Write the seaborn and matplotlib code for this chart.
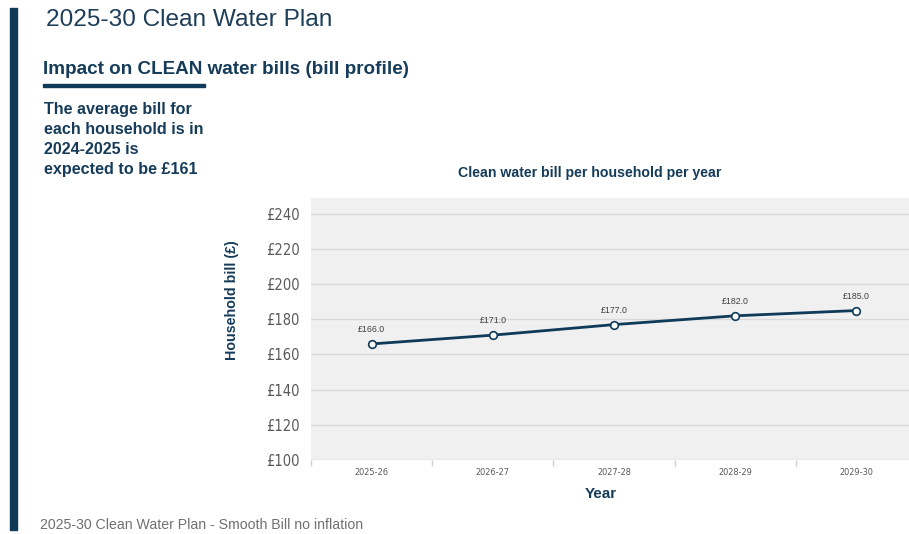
import matplotlib
matplotlib.use("Agg")
import matplotlib.pyplot as plt
from matplotlib.patches import Rectangle
import seaborn as sns
import pandas as pd

# Bill profile data
years = ["2025-26", "2026-27", "2027-28", "2028-29", "2029-30"]
bills = [166.0, 171.0, 177.0, 182.0, 185.0]
y_ticks = [100, 120, 140, 160, 180, 200, 220, 240]

df = pd.DataFrame({"Year": years, "Bill": bills})

NAVY = "#0f3b59"
TEXT_NAVY = "#163c5a"
GREY_TXT = "#595959"

sns.set_theme(style="white")
plt.rcParams["font.family"] = ["Liberation Sans", "DejaVu Sans"]

W, H = 909, 534
fig = plt.figure(figsize=(W / 100, H / 100), dpi=100)
fig.patch.set_facecolor("white")

def fx(px):
    return px / W

def fy(py):
    return 1 - py / H

# Vertical accent bar on the left
fig.patches.append(Rectangle((fx(10), fy(530)), fx(7), (530 - 8) / H,
                             transform=fig.transFigure, color=NAVY, zorder=5))

# Header texts
fig.text(fx(46), fy(20), "2025-30 Clean Water Plan", fontsize=17.6,
         color="#1d3d58", va="center", ha="left")
fig.text(fx(43), fy(70), "Impact on CLEAN water bills (bill profile)",
         fontsize=13.6, fontweight="bold", color=TEXT_NAVY, va="center", ha="left")
fig.patches.append(Rectangle((fx(43), fy(86.5)), fx(162), 3 / H,
                             transform=fig.transFigure, color=NAVY))
fig.text(fx(44), fy(102), "The average bill for\neach household is in\n2024-2025 is\nexpected to be £161",
         fontsize=11.6, fontweight="bold", color=TEXT_NAVY, va="top", ha="left",
         linespacing=1.42)

# Chart area
ax = fig.add_axes([fx(311), fy(460), fx(606), (460 - 198) / H])
ax.set_facecolor("#f0f0f0")
for s in ax.spines.values():
    s.set_visible(False)

ax.set_ylim(100, 249)
ax.set_yticks(y_ticks)
ax.yaxis.grid(True, color="#d9d9d9", linewidth=1)
ax.set_axisbelow(True)

sns.lineplot(data=df, x="Year", y="Bill", ax=ax, color=NAVY, linewidth=2,
             marker="o", markersize=5.5, markerfacecolor="white",
             markeredgecolor=NAVY, markeredgewidth=1.2, sort=False)
ax.set_xlim(-0.5, 4.5)

for i, v in enumerate(bills):
    ax.annotate(f"£{v:.1f}", (i, v), xytext=(0, 7), textcoords="offset points",
                ha="center", va="bottom", fontsize=6.3, color="#404040")

ax.set_yticklabels([f"£{t}" for t in y_ticks])
for lab in ax.get_yticklabels():
    lab.set_fontfamily(["DejaVu Sans"])
    lab.set_fontstretch("condensed")
    lab.set_fontsize(10.5)
    lab.set_color(GREY_TXT)
for lab in ax.get_xticklabels():
    lab.set_fontfamily(["DejaVu Sans"])
    lab.set_fontstretch("condensed")
    lab.set_fontsize(6.6)
    lab.set_color(GREY_TXT)

ax.tick_params(axis="y", length=0, pad=8)
ax.tick_params(axis="x", which="major", length=0, pad=6)
ax.set_xticks([-0.5, 0.5, 1.5, 2.5, 3.5, 4.5], minor=True)
ax.tick_params(axis="x", which="minor", length=4, color="#d0d0d0", width=1, bottom=True)
ax.axhline(100, color="#d9d9d9", linewidth=1)

ax.set_xlabel("")
ax.set_ylabel("")

fig.text(fx(590), fy(173), "Clean water bill per household per year", fontsize=10.2,
         fontweight="bold", color=TEXT_NAVY, ha="center", va="center")
fig.text(fx(232), fy(300), "Household bill (£)", fontsize=10.3, fontweight="bold",
         color=TEXT_NAVY, rotation=90, ha="center", va="center")
fig.text(fx(601), fy(494), "Year", fontsize=11, fontweight="bold",
         color=TEXT_NAVY, ha="center", va="center")

fig.text(fx(40), fy(525), "2025-30 Clean Water Plan - Smooth Bill no inflation",
         fontsize=10.2, color="#707070", ha="left", va="center")

fig.savefig("out.png", dpi=100, facecolor="white")
